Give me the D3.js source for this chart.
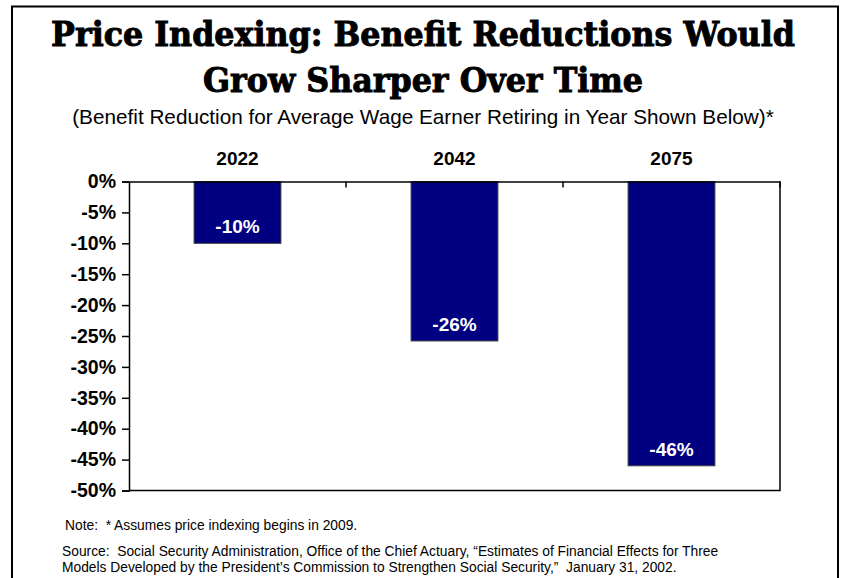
<!DOCTYPE html>
<html><head><meta charset="utf-8">
<script src="https://cdn.jsdelivr.net/npm/d3@7"></script>
<style>body{margin:0;background:#fff}svg{display:block}text{white-space:pre}</style>
</head><body>
<svg id="c" width="842" height="578"></svg>
<script>
const categories = ["2022", "2042", "2075"];
const values = [-10, -25.8, -46];
const valueLabels = ["-10%", "-26%", "-46%"];
const yTicks = [0, -5, -10, -15, -20, -25, -30, -35, -40, -45, -50];
const titleLines = ["Price Indexing: Benefit Reductions Would", "Grow Sharper Over Time"];
const subtitle = "(Benefit Reduction for Average Wage Earner Retiring in Year Shown Below)*";
const noteText = "Note:  * Assumes price indexing begins in 2009.";
const sourceLines = ["Source:  Social Security Administration, Office of the Chief Actuary, \u201cEstimates of Financial Effects for Three",
  "Models Developed by the President\u2019s Commission to Strengthen Social Security,\u201d  January 31, 2002."];

const svg = d3.select("#c");
// outer frame
svg.append("path").attr("d", "M12,600 V6.5 H838 V600").attr("fill", "none").attr("stroke", "#000").attr("stroke-width", 2);

const cx = 423;
function fitText(sel, w) {
  const len = sel.node().getComputedTextLength();
  const s = w / len;
  const tx = +sel.attr("x"), ty = +sel.attr("y");
  sel.attr("transform", `translate(${tx},${ty}) scale(${s},1) translate(${-tx},${-ty})`);
  return s;
}
const t1 = svg.append("text").attr("x", cx).attr("y", 46).attr("text-anchor", "middle")
  .attr("font-family", "DejaVu Serif").attr("font-weight", "bold").attr("font-size", 34)
  .attr("stroke", "#000").attr("stroke-width", 1).text(titleLines[0]);
const sc = fitText(t1, 744);
const t2 = svg.append("text").attr("x", cx).attr("y", 92).attr("text-anchor", "middle")
  .attr("font-family", "DejaVu Serif").attr("font-weight", "bold").attr("font-size", 34)
  .attr("stroke", "#000").attr("stroke-width", 1).text(titleLines[1]);
t2.attr("transform", `translate(${cx},92) scale(${sc},1) translate(${-cx},-92)`);
const st = svg.append("text").attr("x", cx).attr("y", 124).attr("text-anchor", "middle")
  .attr("font-family", "Liberation Sans, Arial, sans-serif").attr("font-size", 20).text(subtitle);
fitText(st, 702);

const pLeft = 129, pRight = 780, pTop = 181.5, pBottom = 490.5;
const x = d3.scaleBand().domain(categories).range([pLeft, pRight]).paddingInner(0.6).paddingOuter(0.3);
const xb = d3.scaleBand().domain(categories).range([pLeft, pRight]);
const y = d3.scaleLinear().domain([0, -50]).range([pTop, pBottom]);

// bars
svg.selectAll("rect.bar").data(values).join("rect").attr("class", "bar")
  .attr("x", (d, i) => x(categories[i])).attr("width", x.bandwidth())
  .attr("y", y(0)).attr("height", d => y(d) - y(0))
  .attr("fill", "#000080").attr("stroke", "#3a3a3a").attr("stroke-width", 1);

// plot box right & bottom
svg.append("path").attr("d", `M${pLeft},${pBottom}H${pRight}V${pTop}`).attr("fill", "none").attr("stroke", "#000").attr("stroke-width", 1.5);

// y axis
const yAxis = svg.append("g").attr("transform", `translate(${pLeft},0)`)
  .call(d3.axisLeft(y).tickValues(yTicks).tickSize(7).tickPadding(6).tickFormat(d => d + "%"));
yAxis.select(".domain").attr("stroke-width", 1.5);
yAxis.selectAll(".tick line").attr("stroke-width", 1.5);
yAxis.selectAll("text").attr("font-family", "Liberation Sans, Arial, sans-serif").attr("font-weight", "bold").attr("font-size", 19.5).attr("fill", "#000");

// x axis at zero (top) with ticks between categories
const xAxis = svg.append("g").attr("transform", `translate(0,${y(0)})`)
  .call(d3.axisBottom(xb).tickSize(0).tickFormat(""));
xAxis.select(".domain").attr("stroke-width", 1.5);
xAxis.selectAll(".tick").remove();
svg.selectAll("line.sep").data(categories).join("line").attr("class", "sep")
  .attr("x1", d => xb(d) + xb.bandwidth()).attr("x2", d => xb(d) + xb.bandwidth())
  .attr("y1", y(0)).attr("y2", y(0) + 6).attr("stroke", "#000").attr("stroke-width", 1.5);

// category labels
svg.selectAll("text.cat").data(categories).join("text").attr("class", "cat")
  .attr("x", d => x(d) + x.bandwidth() / 2).attr("y", 165).attr("text-anchor", "middle")
  .attr("font-family", "Liberation Sans, Arial, sans-serif").attr("font-weight", "bold").attr("font-size", 19).text(d => d);

// value labels
svg.selectAll("text.val").data(values).join("text").attr("class", "val")
  .attr("x", (d, i) => x(categories[i]) + x.bandwidth() / 2).attr("y", d => y(d) - 10)
  .attr("text-anchor", "middle").attr("fill", "#fff")
  .attr("font-family", "Liberation Sans, Arial, sans-serif").attr("font-weight", "bold").attr("font-size", 19)
  .text((d, i) => valueLabels[i]);

// notes
svg.append("text").attr("x", 65).attr("y", 530).attr("font-family", "Liberation Sans, Arial, sans-serif").attr("font-size", 13.8).text(noteText);
svg.selectAll("text.src").data(sourceLines).join("text").attr("class", "src")
  .attr("x", 62).attr("y", (d, i) => 556 + i * 15.5)
  .attr("font-family", "Liberation Sans, Arial, sans-serif").attr("font-size", 13.8).text(d => d);
</script>
</body></html>
